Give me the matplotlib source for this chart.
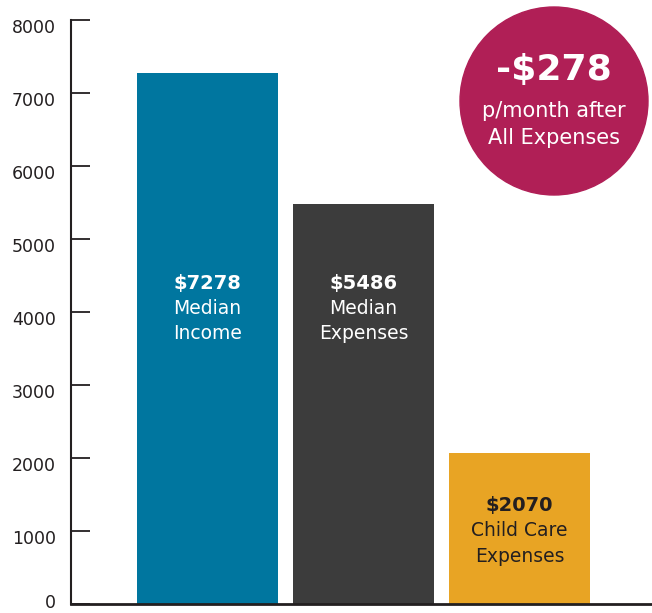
import matplotlib
matplotlib.use("Agg")
import matplotlib.pyplot as plt
from matplotlib.patches import Circle
from matplotlib.transforms import ScaledTranslation

# ---- data ----
categories = ["Median\nIncome", "Median\nExpenses", "Child Care\nExpenses"]
values = [7278, 5486, 2070]
bar_colors = ["#00769F", "#3C3C3C", "#E8A424"]
text_colors = ["white", "white", "#231F20"]
yticks = [0, 1000, 2000, 3000, 4000, 5000, 6000, 7000, 8000]
net_text = "-$278"
net_sub = "p/month after\nAll Expenses"

plt.rcParams['font.family'] = ['DejaVu Sans']

W, H = 652, 613
fig = plt.figure(figsize=(W / 100, H / 100), dpi=100)
left, right, bottom, top = 71, 652, 604, 20
ax = fig.add_axes([left / W, (H - bottom) / H, (right - left) / W, (bottom - top) / H])
ax.set_facecolor("none")

x = list(range(len(values)))
ax.bar(x, values, width=141 / 156, color=bar_colors)
ax.set_xlim(-136.5 / 156, (652 - 207.5) / 156)
ax.set_ylim(0, 8000)

for s in ["top", "right"]:
    ax.spines[s].set_visible(False)
ax.spines["left"].set_color("#231F20")
ax.spines["bottom"].set_color("#231F20")
ax.spines["left"].set_linewidth(1.5)
ax.spines["bottom"].set_linewidth(2.0)
ax.set_xticks([])
ax.set_yticks(yticks)
ax.set_yticklabels([str(t) for t in yticks])
ax.tick_params(axis="y", direction="in", length=14, width=1.3, color="#231F20",
               labelsize=12.5, labelcolor="#231F20", pad=11)
ax.spines["left"].set_bounds(0, 8000)
for t, lab in zip(yticks, ax.get_yticklabels()):
    dy = 2.5 if t == 0 else -4
    lab.set_transform(lab.get_transform() + ScaledTranslation(0, dy / 72, fig.dpi_scale_trans))

label_centers = [4050, 4050, 1000]
line_gap = 345
for xi, v, cat, tc, yc in zip(x, values, categories, text_colors, label_centers):
    l1, l2 = cat.split("\n")
    ax.text(xi, yc + line_gap, f"${v}", ha="center", va="center", color=tc,
            fontsize=14, fontweight="bold")
    ax.text(xi, yc, l1, ha="center", va="center", color=tc, fontsize=13.5)
    ax.text(xi, yc - line_gap, l2, ha="center", va="center", color=tc, fontsize=13.5)

# badge
cx, cy, r = 554, 101, 94
circ = Circle((cx, H - cy), r, transform=None, color="#B01F56", zorder=5)
fig.patches.append(circ)
fig.text(cx / W, (H - 70) / H, net_text, ha="center", va="center", color="white",
         fontsize=26, fontweight="bold", zorder=6)
s1, s2 = net_sub.split("\n")
fig.text(cx / W, (H - 111) / H, s1, ha="center", va="center", color="white",
         fontsize=15, zorder=6)
fig.text(cx / W, (H - 138) / H, s2, ha="center", va="center", color="white",
         fontsize=15, zorder=6)

fig.savefig("out.png", dpi=100)
